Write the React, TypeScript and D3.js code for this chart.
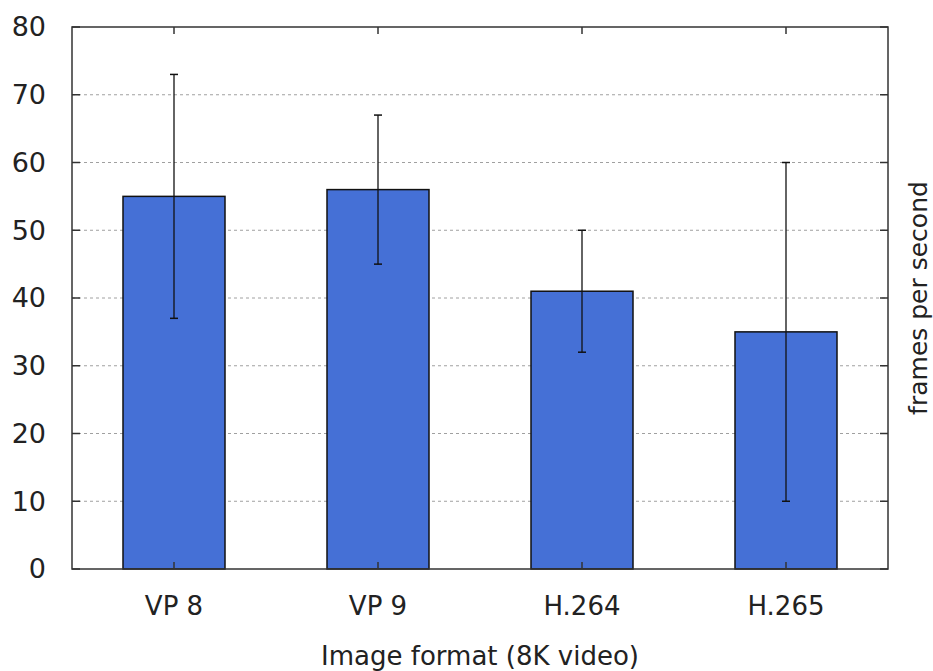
import React, { useEffect, useRef } from "react";
import * as d3 from "d3";

const categories = ["VP 8", "VP 9", "H.264", "H.265"];
const fps = [55, 56, 41, 35];
const errLow = [37, 45, 32, 10];
const errHigh = [73, 67, 50, 60];
const yTicks = [0, 10, 20, 30, 40, 50, 60, 70, 80];

const App = () => {
  const ref = useRef<SVGSVGElement>(null);

  useEffect(() => {
    const svg = d3.select(ref.current);
    svg.selectAll("*").remove();

    const margin = { top: 27, right: 45, bottom: 102, left: 72 },
      width = 933 - margin.left - margin.right,
      height = 671 - margin.top - margin.bottom;

    const g = svg
      .append("g")
      .attr("transform", "translate(" + margin.left + "," + margin.top + ")");

    const x = d3.scaleBand().domain(categories).range([0, width]).paddingInner(0.5).paddingOuter(0.25);
    const y = d3.scaleLinear().domain([0, 80]).range([height, 0]);

    const font = "DejaVu Sans, Verdana, sans-serif";

    // dotted grid
    g.selectAll(".grid")
      .data(yTicks.filter((t) => t > 0 && t < 80))
      .enter()
      .append("line")
      .attr("x1", 0)
      .attr("x2", width)
      .attr("y1", (d) => y(d))
      .attr("y2", (d) => y(d))
      .attr("stroke", "#a0a0a0")
      .attr("stroke-width", 1)
      .attr("stroke-dasharray", "3,3");

    const rows = categories.map((c, i) => ({ c, v: fps[i], lo: errLow[i], hi: errHigh[i] }));

    g.selectAll(".bar")
      .data(rows)
      .enter()
      .append("rect")
      .attr("x", (d) => x(d.c)!)
      .attr("y", (d) => y(d.v))
      .attr("width", x.bandwidth())
      .attr("height", (d) => height - y(d.v))
      .attr("fill", "#4570d6")
      .attr("stroke", "#111")
      .attr("stroke-width", 1.5);

    const cx = (c: string) => x(c)! + x.bandwidth() / 2;

    const err = g.selectAll(".err").data(rows).enter().append("g");
    err
      .append("line")
      .attr("x1", (d) => cx(d.c))
      .attr("x2", (d) => cx(d.c))
      .attr("y1", (d) => y(d.lo))
      .attr("y2", (d) => y(d.hi))
      .attr("stroke", "#111")
      .attr("stroke-width", 1.3);
    [(d: any) => d.lo, (d: any) => d.hi].forEach((acc) => {
      err
        .append("line")
        .attr("x1", (d) => cx(d.c) - 4)
        .attr("x2", (d) => cx(d.c) + 4)
        .attr("y1", (d) => y(acc(d)))
        .attr("y2", (d) => y(acc(d)))
        .attr("stroke", "#111")
        .attr("stroke-width", 1.5);
    });

    // frame
    g.append("rect")
      .attr("width", width)
      .attr("height", height)
      .attr("fill", "none")
      .attr("stroke", "#333")
      .attr("stroke-width", 1.5);

    // inward ticks, left and right
    yTicks.forEach((t) => {
      g.append("line").attr("x1", 0).attr("x2", 8).attr("y1", y(t)).attr("y2", y(t)).attr("stroke", "#333").attr("stroke-width", 1.5);
      g.append("line").attr("x1", width).attr("x2", width - 8).attr("y1", y(t)).attr("y2", y(t)).attr("stroke", "#333").attr("stroke-width", 1.5);
    });
    categories.forEach((c) => {
      g.append("line").attr("x1", cx(c)).attr("x2", cx(c)).attr("y1", 0).attr("y2", 7).attr("stroke", "#333").attr("stroke-width", 1.5);
      g.append("line").attr("x1", cx(c)).attr("x2", cx(c)).attr("y1", height).attr("y2", height - 7).attr("stroke", "#333").attr("stroke-width", 1.5);
    });

    g.selectAll(".ylab")
      .data(yTicks)
      .enter()
      .append("text")
      .attr("x", -26)
      .attr("y", (d) => y(d))
      .attr("dy", "0.35em")
      .attr("text-anchor", "end")
      .attr("font-family", font)
      .attr("font-size", 27)
      .attr("fill", "#222")
      .text((d) => d);

    g.selectAll(".xlab")
      .data(categories)
      .enter()
      .append("text")
      .attr("x", (d) => cx(d))
      .attr("y", height + 37)
      .attr("dy", "0.35em")
      .attr("text-anchor", "middle")
      .attr("font-family", font)
      .attr("font-size", 26)
      .attr("fill", "#222")
      .text((d) => d);

    g.append("text")
      .attr("x", width / 2)
      .attr("y", height + 87)
      .attr("dy", "0.35em")
      .attr("text-anchor", "middle")
      .attr("font-family", font)
      .attr("font-size", 26)
      .attr("fill", "#222")
      .text("Image format (8K video)");

    g.append("text")
      .attr("transform", "translate(" + (width + 30) + "," + height / 2 + ") rotate(-90)")
      .attr("dy", "0.35em")
      .attr("text-anchor", "middle")
      .attr("font-family", font)
      .attr("font-size", 25)
      .attr("fill", "#222")
      .text("frames per second");
  }, []);

  return (
    <svg
      ref={ref}
      width={933}
      height={671}
      style={{ position: "absolute", left: 0, top: 0, background: "#fff" }}
    />
  );
};

export default App;
